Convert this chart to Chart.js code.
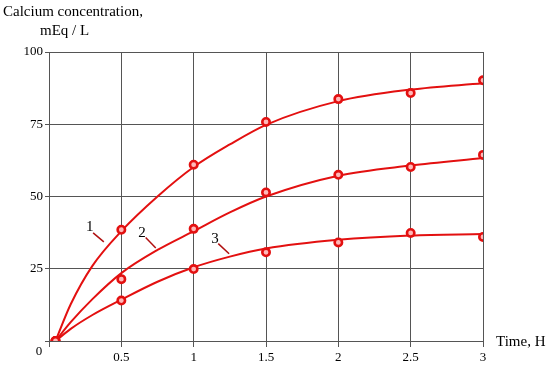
<!DOCTYPE html>
<html>
<head>
<meta charset="utf-8">
<script src="https://cdn.jsdelivr.net/npm/chart.js@4.4.1/dist/chart.umd.min.js"></script>
<style>
html,body{margin:0;padding:0;background:#fff;}
#wrap{width:550px;height:369px;position:relative;}
</style>
</head>
<body>
<div id="wrap"><canvas id="c" width="550" height="369"></canvas></div>
<script>
// Measured points
const timePoints = [0.045, 0.5, 1, 1.5, 2, 2.5, 3];
const series1Points = [0, 38.5, 61.0, 75.8, 83.7, 85.8, 90.2];
const series2Points = [0, 21.4, 38.8, 51.4, 57.5, 60.2, 64.4];
const series3Points = [0, 14.0, 24.9, 30.7, 34.1, 37.4, 36.0];
// Fitted curves
const curveTimes = [0.045, 0.15, 0.3, 0.5, 0.75, 1, 1.25, 1.5, 2, 2.5, 3];
const curve1 = [0, 12.7, 26, 38, 50, 60.2, 68, 74.8, 83, 87, 89.2];
const curve2 = [0, 6.5, 14.5, 23.5, 31.5, 38, 44.5, 50, 57.2, 60.7, 63.3];
const curve3 = [0, 4.2, 9, 14.3, 20.5, 25.5, 29.2, 32, 35, 36.5, 37];
// Ticks
const xTicks = [0, 0.5, 1, 1.5, 2, 2.5, 3];
const xTickLabels = ['', '0.5', '1', '1.5', '2', '2.5', '3'];
const yTicks = [0, 25, 50, 75, 100];
const yTickLabels = ['', '25', '50', '75', '100'];
// Curve number labels: [text, labelX, labelY, leaderX1, leaderY1, leaderX2, leaderY2]
const curveLabels = [
  ['1', 0.282, 39.5, 0.305, 37.4, 0.379, 34.3],
  ['2', 0.642, 37.5, 0.668, 35.8, 0.738, 32.2],
  ['3', 1.147, 35.4, 1.170, 33.7, 1.245, 30.2]
];

const RED = '#e31010';
const SERIF = '"Liberation Serif", "Times New Roman", serif';
const pts = (xs, ys) => xs.map((x, i) => ({x: x, y: ys[i]}));

function lineDs(ys) {
  return {data: pts(curveTimes, ys), showLine: true, borderColor: RED, borderWidth: 2,
    pointRadius: 0, cubicInterpolationMode: 'monotone', fill: false, order: 2};
}
function pointDs(ys) {
  return {data: pts(timePoints, ys), showLine: false, pointRadius: 3.7, pointBorderWidth: 2.6,
    pointBorderColor: RED, pointBackgroundColor: '#ffb8b8', order: 1};
}

const textPlugin = {
  id: 'texts',
  afterDraw(chart) {
    const ctx = chart.ctx;
    const xs = chart.scales.x, ys = chart.scales.y;
    ctx.save();
    ctx.fillStyle = '#000';
    ctx.font = '15px ' + SERIF;
    ctx.textAlign = 'left';
    ctx.textBaseline = 'middle';
    ctx.fillText('Calcium concentration,', 3, 12);
    ctx.fillText('mEq / L', 40, 31);
    ctx.fillText('Time, H', 496, 342);
    ctx.font = '13px ' + SERIF;
    ctx.textAlign = 'center';
    ctx.fillText('0', xs.getPixelForValue(0) - 10, ys.getPixelForValue(0) + 11);
    ctx.font = '15px ' + SERIF;
    curveLabels.forEach(l => {
      ctx.fillStyle = '#000';
      ctx.fillText(l[0], xs.getPixelForValue(l[1]), ys.getPixelForValue(l[2]));
      ctx.strokeStyle = '#b01010';
      ctx.lineWidth = 1.5;
      ctx.beginPath();
      ctx.moveTo(xs.getPixelForValue(l[3]), ys.getPixelForValue(l[4]));
      ctx.lineTo(xs.getPixelForValue(l[5]), ys.getPixelForValue(l[6]));
      ctx.stroke();
    });
    ctx.restore();
  }
};

new Chart(document.getElementById('c'), {
  type: 'scatter',
  data: {
    datasets: [lineDs(curve1), lineDs(curve2), lineDs(curve3),
      pointDs(series1Points), pointDs(series2Points), pointDs(series3Points)]
  },
  options: {
    responsive: false,
    animation: false,
    layout: {padding: {top: 52, right: 67, left: 0, bottom: 0}},
    plugins: {legend: {display: false}, tooltip: {enabled: false}},
    scales: {
      x: {
        type: 'linear', min: 0, max: 3,
        afterBuildTicks: s => { s.ticks = xTicks.map(v => ({value: v})); },
        afterFit: s => { s.height = 28; },
        grid: {color: '#555', lineWidth: 1, tickLength: 6, drawTicks: true},
        border: {color: '#555', width: 1},
        ticks: {color: '#000', font: {family: SERIF, size: 13}, padding: 3, maxRotation: 0,
          callback: (v) => { const i = xTicks.indexOf(v); return i >= 0 ? xTickLabels[i] : ''; }}
      },
      y: {
        type: 'linear', min: 0, max: 100,
        afterBuildTicks: s => { s.ticks = yTicks.map(v => ({value: v})); },
        afterFit: s => { s.width = 49; },
        grid: {color: '#555', lineWidth: 1, tickLength: 4, drawTicks: true},
        border: {color: '#555', width: 1},
        ticks: {color: '#000', font: {family: SERIF, size: 13}, padding: 2,
          callback: (v) => { const i = yTicks.indexOf(v); return i >= 0 ? yTickLabels[i] : ''; }}
      }
    }
  },
  plugins: [textPlugin]
});
</script>
</body>
</html>
